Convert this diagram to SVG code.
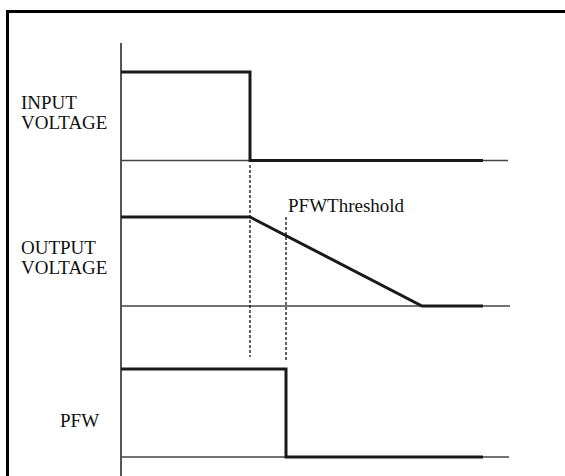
<svg xmlns="http://www.w3.org/2000/svg" width="565" height="476" viewBox="0 0 565 476">
<style>
.frame{fill:none;stroke:#000;stroke-width:3}
.axis{fill:none;stroke:#555;stroke-width:2}
.base{fill:none;stroke:#444;stroke-width:1.5}
.sig{fill:none;stroke:#1a1a1a;stroke-width:3;stroke-linejoin:miter}
.dot{fill:none;stroke:#111;stroke-width:1.3;stroke-dasharray:3 2}
.lbl{font-family:"Liberation Serif","Times New Roman",serif;font-size:19px;fill:#111}
</style>
<rect width="565" height="476" fill="#fff"/>
<path class="frame" d="M7.5,476 V11.5 H565"/>
<g id="axis"><line class="axis" x1="121" y1="43" x2="121" y2="476"/></g>
<g id="input-voltage">
<line class="base" x1="121" y1="160.5" x2="508" y2="160.5"/>
<polyline class="sig" points="121,72 250,72 250,160.5 483,160.5"/>
<text class="lbl" x="21" y="109">INPUT</text>
<text class="lbl" x="21" y="129">VOLTAGE</text>
</g>
<g id="output-voltage">
<line class="base" x1="121" y1="306" x2="510" y2="306"/>
<polyline class="sig" points="121,217 250,217 422,306 483,306"/>
<text class="lbl" x="21" y="254">OUTPUT</text>
<text class="lbl" x="21" y="274">VOLTAGE</text>
<text class="lbl" x="288" y="212">PFWThreshold</text>
</g>
<g id="pfw">
<line class="base" x1="121" y1="457" x2="509" y2="457"/>
<polyline class="sig" points="121,369 286,369 286,457 483,457"/>
<text class="lbl" x="60" y="427">PFW</text>
</g>
<g id="connectors">
<line class="dot" x1="250" y1="165" x2="250" y2="357"/>
<line class="dot" x1="286" y1="217" x2="286" y2="362"/>
</g>
</svg>
